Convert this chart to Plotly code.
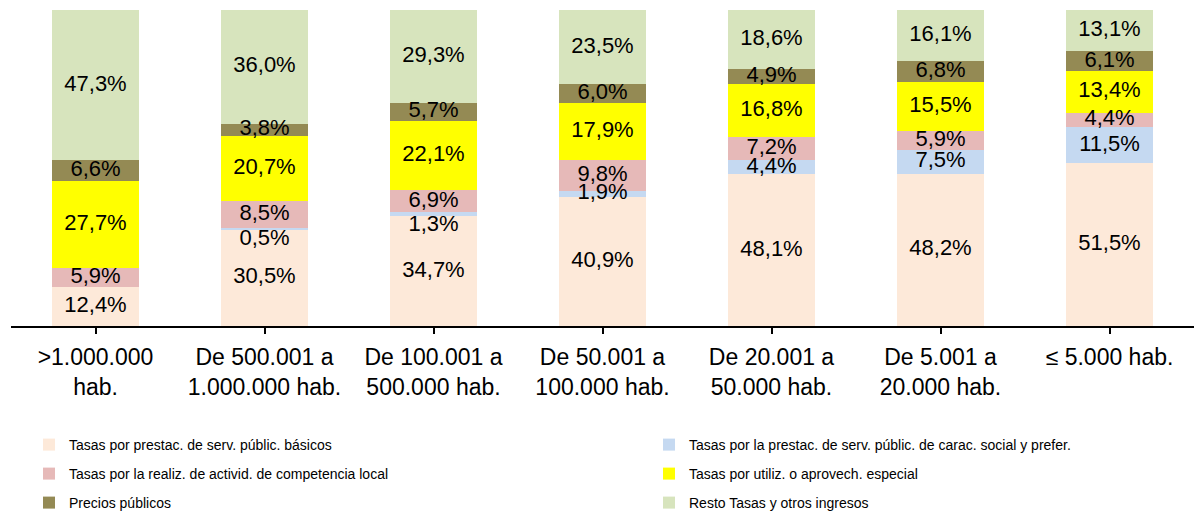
import plotly.graph_objects as go

categories = [">1.000.000<br>hab.", "De 500.001 a<br>1.000.000 hab.", "De 100.001 a<br>500.000 hab.",
              "De 50.001 a<br>100.000 hab.", "De 20.001 a<br>50.000 hab.", "De 5.001 a<br>20.000 hab.",
              "≤ 5.000 hab."]

series_names = [
    "Tasas por prestac. de serv. públic. básicos",
    "Tasas por la prestac. de serv. públic. de carac. social y prefer.",
    "Tasas por la realiz. de activid. de competencia local",
    "Tasas por utiliz. o aprovech. especial",
    "Precios públicos",
    "Resto Tasas y otros ingresos",
]
basicos = [12.4, 30.5, 34.7, 40.9, 48.1, 48.2, 51.5]
social = [0.0, 0.5, 1.3, 1.9, 4.4, 7.5, 11.5]
competencia = [5.9, 8.5, 6.9, 9.8, 7.2, 5.9, 4.4]
utilizacion = [27.7, 20.7, 22.1, 17.9, 16.8, 15.5, 13.4]
precios = [6.6, 3.8, 5.7, 6.0, 4.9, 6.8, 6.1]
resto = [47.3, 36.0, 29.3, 23.5, 18.6, 16.1, 13.1]

series_values = [basicos, social, competencia, utilizacion, precios, resto]
colors = ["#FDE9D9", "#C5D9F1", "#E6B9B8", "#FFFF00", "#948A54", "#D7E4BD"]
legend_ids = ["legend", "legend2", "legend3", "legend4", "legend5", "legend6"]

FONT = "Liberation Sans, Arial, sans-serif"

fig = go.Figure()
x_idx = list(range(len(categories)))
for name, vals, col, lg in zip(series_names, series_values, colors, legend_ids):
    fig.add_trace(go.Bar(
        x=x_idx, y=vals, name=name, marker=dict(color=col, line=dict(width=0)),
        hoverinfo="skip", legend=lg,
    ))

# data labels drawn on top of all bars (centre of each stacked segment)
base = [0.0] * len(categories)
for vals in series_values:
    mids, texts, pos = [], [], []
    for i, v in enumerate(vals):
        mids.append(base[i] + v / 2)
        texts.append(("%.1f%%" % v).replace(".", ",") if v > 0 else "")
        pos.append("bottom center" if 0 < v < 1.5 else "middle center")
        base[i] += v
    fig.add_trace(go.Scatter(
        x=x_idx, y=mids, mode="text", text=texts, textposition=pos,
        textfont=dict(family=FONT, size=22, color="black"),
        showlegend=False, hoverinfo="skip",
    ))

W, H = 1198, 513
leg_common = dict(orientation="h", xref="container", yref="container",
                  xanchor="left", yanchor="middle",
                  font=dict(family=FONT, size=14, color="black"), bgcolor="rgba(0,0,0,0)",
                  borderwidth=0)
col_x = [29, 649]
row_y = [445, 474, 503]
legend_layout = {}
for k, lg in enumerate(legend_ids):
    legend_layout[lg] = dict(x=col_x[k % 2] / W, y=1 - row_y[k // 2] / H, **leg_common)

fig.update_layout(
    width=W, height=H,
    barmode="stack", bargap=0.48,
    plot_bgcolor="white", paper_bgcolor="white",
    margin=dict(l=11, r=4, t=10, b=187, autoexpand=False),
    showlegend=True,
    xaxis=dict(
        tickmode="array", tickvals=x_idx, ticktext=categories,
        range=[-0.5, len(categories) - 0.5],
        showline=True, linecolor="black", linewidth=1.5,
        ticks="outside", tickson="boundaries", ticklen=6, tickcolor="black", tickwidth=1.5,
        ticklabelstandoff=4,
        tickfont=dict(family=FONT, size=23, color="black"),
        showgrid=False, zeroline=False, automargin=False,
    ),
    yaxis=dict(range=[0, 100], visible=False, showgrid=False, zeroline=False),
    **legend_layout,
)

fig.write_html("out.html", config={"displayModeBar": False},
               post_script="document.body.style.margin='0px';")
